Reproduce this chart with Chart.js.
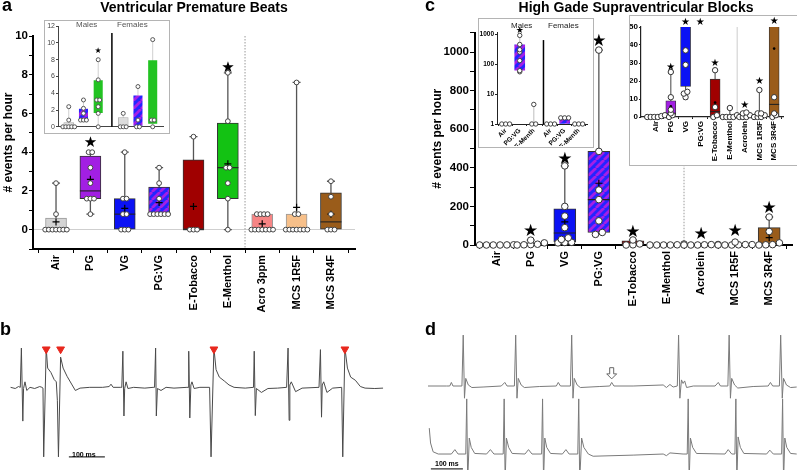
<!DOCTYPE html>
<html lang="en">
<head>
<meta charset="UTF-8">
<title>Arrhythmias after e-cigarette exposure</title>
<script src="https://cdn.jsdelivr.net/npm/chart.js"></script>
<style>
  body { margin: 0; width: 797px; height: 470px; position: relative; overflow: hidden; background: #fff;
         font-family: "Liberation Sans", Arial, sans-serif; }
  canvas, .txt, .inset { position: absolute; }
  .txt { line-height: 1; white-space: nowrap; color: #000; z-index: 5; }
  .panel { font-size: 18px; font-weight: bold; }
  .title { font-size: 14px; font-weight: bold; text-align: center; width: 300px; }
  .inset { background: #fff; border: 1.5px solid #b4b4b4; box-sizing: border-box; }
  .sex { font-size: 8px; color: #555; }
  .scale { font-size: 7px; font-weight: bold; }
</style>
</head>
<body>
  <!-- main panels -->
  <canvas id="chA" width="360" height="330" style="left:0;top:0"></canvas>
  <canvas id="chC" width="377" height="330" style="left:420px;top:0"></canvas>
  <canvas id="chB" width="386" height="128" style="left:4px;top:338px"></canvas>
  <canvas id="chD" width="369" height="140" style="left:428px;top:330px"></canvas>

  <!-- insets -->
  <div class="inset" style="left:44px;top:20px;width:126px;height:114px"></div>
  <canvas id="inA" width="123" height="111" style="left:45px;top:21px"></canvas>
  <div class="inset" style="left:478px;top:18px;width:116px;height:130px"></div>
  <canvas id="inCL" width="113" height="127" style="left:479px;top:19px"></canvas>
  <div class="inset" style="left:629px;top:15px;width:170px;height:151px;border-right:none"></div>
  <canvas id="inCR" width="167" height="148" style="left:630px;top:16px"></canvas>

  <!-- text -->
  <div class="txt panel" style="left:2px;top:-4px">a</div>
  <div class="txt title" style="left:44px;top:0">Ventricular Premature Beats</div>
  <div class="txt panel" style="left:425px;top:-4px">c</div>
  <div class="txt title" style="left:486px;top:0">High Gade Supraventricular Blocks</div>
  <div class="txt panel" style="left:0;top:320px">b</div>
  <div class="txt panel" style="left:425px;top:320px">d</div>
  <div class="txt sex" style="left:76px;top:21px">Males</div>
  <div class="txt sex" style="left:117px;top:21px">Females</div>
  <div class="txt sex" style="left:511px;top:22px;color:#222">Males</div>
  <div class="txt sex" style="left:548px;top:22px;color:#222">Females</div>
  <div class="txt scale" style="left:72px;top:451px">100 ms</div>
  <div class="txt scale" style="left:435px;top:460px">100 ms</div>

<script>
// ---------- a: ventricular premature beats (# events per hour) ----------
const aCats = ['Air', 'PG', 'VG', 'PG:VG', 'E-Tobacco', 'E-Menthol', 'Acro 3ppm', 'MCS 1R5F', 'MCS 3R4F'];
const aLo   = [0, 0.8, 0, 0.8, 0, 0, 0, 0, 0];
const aQ1   = [0, 1.6, 0, 0.8, 0, 1.6, 0, 0, 0];
const aMed  = [0, 2.0, 0.8, 0.8, 0, 3.2, 0, 0, 0.4];
const aQ3   = [0.6, 3.8, 1.6, 2.2, 3.6, 5.5, 0.8, 0.8, 1.9];
const aHi   = [2.4, 4.0, 4.0, 3.2, 4.8, 8.1, 0.8, 7.6, 2.5];
const aMean = [0.4, 2.6, 1.1, 1.4, 1.2, 3.4, 0.3, 1.15, 0.8];
const aPts  = [
  [0, 0, 0, 0, 0, 0, 0, 0.8, 2.4],
  [0.8, 1.6, 1.6, 1.6, 2.4, 3.2, 4.0, 4.0],
  [0, 0, 0, 0.8, 0.8, 1.6, 1.6, 4.0],
  [0.8, 0.8, 0.8, 0.8, 0.8, 0.8, 1.6, 2.4, 3.2],
  [0, 0, 0, 4.8],
  [0, 1.6, 2.4, 3.2, 3.2, 5.6, 8.1],
  [0, 0, 0, 0, 0, 0, 0, 0.8, 0.8, 0.8, 0.8],
  [0, 0, 0, 0, 0, 0, 0, 0.8, 0.8, 7.6],
  [0, 0, 0, 0.8, 1.7, 2.5]
];
const aStarCat = [1, 5];
const aStarVal = [4.47, 8.35];
const aTicks = [0, 2, 4, 6, 8, 10];

// inset of a: males | females
const iaCats = ['Air', 'PG:VG', 'E-Menthol', 'Air', 'PG:VG', 'E-Menthol'];
const iaLo   = [0, 0.8, 0, 0, 0, 0];
const iaQ1   = [0, 0.8, 1.6, 0, 0, 0.3];
const iaQ3   = [0.5, 2.2, 5.6, 1.1, 3.8, 8.0];
const iaHi   = [2.4, 3.2, 8.0, 1.6, 4.8, 10.4];
const iaPts  = [[0, 0, 0, 0, 0, 0.8, 2.4], [0.8, 0.8, 0.8, 1.6, 2.2, 3.2], [0, 1.6, 2.4, 3.2, 3.2, 5.6, 8.0],
                [0, 0, 0, 1.6], [0, 0, 0.8, 4.8], [0, 0.8, 0.8, 10.4]];
const iaStarCat = [2];
const iaStarVal = [9.0];

// ---------- c: high grade supraventricular blocks (# events per hour) ----------
const cCats = ['Air', 'PG', 'VG', 'PG:VG', 'E-Tobacco', 'E-Menthol', 'Acrolein', 'MCS 1R5F', 'MCS 3R4F'];
const cLo   = [0, 0, 10, 55, 0, 0, 0, 0, 0];
const cQ1   = [0, 1, 17, 65, 0, 0, 0, 0, 0];
const cMed  = [0, 2, 62, 235, 3, 0, 1.5, 0.5, 7];
const cQ3   = [0, 9, 188, 485, 21, 0.5, 2, 2, 90];
const cHi   = [0, 25, 410, 1010, 26, 5, 2.5, 15, 145];
const cMean = [null, 6, 120, 320, 8, null, null, null, 38];
const cPts  = [
  [0, 0, 0, 0, 0.5, 1],
  [0, 1, 2, 4, 11, 25],
  [11, 13, 14, 29, 37, 90, 150, 200, 410],
  [55, 65, 125, 235, 285, 485, 1010],
  [0, 1, 5.5, 26],
  [0, 0, 0, 0, 1, 5],
  [0, 0, 0, 1, 2, 2.5],
  [0, 0, 0, 1, 2, 2, 15],
  [0, 1, 2, 11, 70, 145]
];
const cStarCat = [1, 2, 3, 4, 6, 7, 8];
const cStarVal = [67, 445, 1052, 62, 52, 67, 187];
// zoomed inset (0-50) uses the same groups
const crStarVal = [27.6, 52.4, 52.4, 30, 6.4, 19.7, 53];

// log inset of c: males | females
const icCats = ['Air', 'PG:VG', 'E-Menth', 'Air', 'PG:VG', 'E-Menth'];
const icLo   = [1, 55, 1, 1, 1, 1];
const icQ1   = [1, 60, 1, 1, 1, 1];
const icQ3   = [1, 450, 1, 1, 1.6, 1];
const icHi   = [1, 900, 4.5, 1, 1.6, 1];
const icPts  = [[1, 1, 1], [55, 60, 130, 250, 300, 450, 900], [1, 1, 4.5], [1, 1, 1], [1.6, 1.6, 1.6], [1, 1, 1]];
const icStarCat = [1];
const icStarVal = [1300];

// ---------- b: ECG with premature ventricular beats (time ms, amplitude) ----------
const bT = [3, 16, 25, 30, 33, 37, 39, 43, 48, 57, 70, 84, 90, 93, 95, 102, 106, 115, 124, 130, 133, 136, 142, 149, 160,
  174, 183, 196, 223, 259, 277, 282, 288, 309, 312, 315, 318, 320, 324, 329, 345, 376, 399, 403, 406, 408, 411, 421,
  435, 457, 493, 496, 498, 501, 504, 507, 513, 529, 556, 560, 568, 574, 583, 597, 610, 624, 655, 678, 680, 683, 686,
  700, 718, 745, 770, 774, 777, 779, 783, 795, 813, 860, 864, 867, 869, 873, 882, 898, 923, 926, 932, 939, 948, 961,
  975, 988, 1015, 1038];
const bV = [0, -0.03, 0.02, 0, 1.0, -0.86, -0.03, 0.14, -0.08, 0, -0.03, 0.02, 0, -0.02, -1.77, 1.0, 0.49, 0.38, 0.2,
  0.14, -0.33, -1.77, 0.77, 0.49, 0.28, 0.06, -0.08, -0.02, 0, 0, 0.02, 0.08, 0, 0, 0, 0.92, -0.73, -0.03, 0.14, -0.03,
  0, -0.02, 0, 0, 1.0, -0.73, -0.03, -0.08, 0, -0.02, 0, 0, 0.92, -0.78, 0.06, 0.14, -0.03, 0, 0, -1.77, 1.0, 0.45,
  0.26, 0.16, 0.06, 0, -0.02, 0, 0.92, -0.72, -0.03, -0.13, -0.03, -0.02, 0, 1.0, -0.84, 0.06, 0.14, -0.11, -0.02, 0,
  0.96, -0.76, 0.06, 0.14, -0.13, -0.02, 0, -1.77, 1.0, 0.49, 0.26, 0.18, 0.02, -0.02, -0.03, -0.02];
const bMarkT = [102, 142, 568, 932];   // premature beats
const bMarkV = 0.97;
const bBarT = [165, 265];              // 100 ms
const bBarV = -1.77;

// ---------- d: ECG with blocked beats, two leads ----------
const dT1 = [0, 58, 68, 73, 78, 106, 110, 114, 118, 126, 137, 172, 229, 240, 247, 270, 274, 278, 282, 291, 301, 349,
  401, 407, 414, 445, 449, 453, 457, 466, 476, 537, 568, 574, 581, 641, 735, 745, 756, 766, 779, 783, 787, 792, 797,
  802, 808, 829, 897, 907, 914, 937, 941, 945, 949, 958, 968, 1016, 1063, 1070, 1077, 1098, 1102, 1107, 1111, 1120,
  1133, 1152];
const dV1 = [0, 0, 0, 0.07, 0, 0, 1.0, -0.24, 0.15, 0.02, -0.03, -0.02, 0, 0.07, 0, 0, 1.0, -0.24, 0.15, 0.02, -0.03,
  -0.01, 0, 0.07, 0, 0, 1.0, -0.24, 0.15, 0.02, -0.03, -0.01, 0, 0.07, 0, 0, 0.02, -0.03, 0.03, -0.02, 0, 1.0, -0.24,
  0.12, 0.05, 0.1, -0.03, 0, 0, 0.07, 0, 0, 1.0, -0.24, 0.15, 0.02, -0.04, -0.01, 0, 0.07, 0, 0, 1.0, -0.24, 0.15,
  0.02, -0.03, -0.02];
const dT2 = [4, 8, 16, 32, 73, 84, 94, 118, 121, 124, 129, 135, 146, 183, 195, 206, 235, 238, 241, 245, 252, 263, 303,
  314, 325, 355, 358, 361, 365, 371, 383, 420, 431, 441, 468, 471, 474, 480, 487, 501, 516, 641, 735, 745, 756, 797,
  810, 813, 816, 820, 827, 839, 928, 938, 949, 959, 962, 965, 969, 976, 987, 1058, 1068, 1079, 1105, 1108, 1111, 1115,
  1121, 1133, 1152];
const dV2 = [0.47, 0.2, 0.04, 0, 0, 0.08, 0, 0, 1.0, -0.5, 0.29, 0.12, 0.01, 0, 0.08, 0, 0, 1.0, -0.5, 0.29, 0.12,
  0.01, 0, 0.08, 0, 0, 1.0, -0.5, 0.29, 0.12, 0.01, 0, 0.08, 0, 0, 1.0, -0.5, 0.29, 0.12, 0, -0.04, -0.02, 0, -0.03,
  0.02, 0, 0, 1.0, -0.5, 0.29, 0.12, 0.01, 0, 0.08, 0, 0, 1.0, -0.5, 0.31, 0.12, 0.01, 0, 0.07, 0, 0, 1.0, -0.5, 0.29,
  0.12, 0.01, 0];
const dArrowT = 574;                  // blocked P wave
const dArrowV = [0.14, 0.36];
const dBarT = [9, 109];               // 100 ms
const dBarV = -0.27;

Chart.defaults.font.family = '"Liberation Sans", Arial, sans-serif';
Chart.defaults.color = '#000';

// diagonal two-colour stripes for the PG:VG mix
function stripes(c1, c2) {
  const p = document.createElement('canvas');
  p.width = p.height = 8;
  const g = p.getContext('2d');
  g.fillStyle = c1;
  g.fillRect(0, 0, 8, 8);
  g.strokeStyle = c2;
  g.lineWidth = 2.8;
  g.beginPath();
  for (let k = -8; k <= 16; k += 8) { g.moveTo(k, 8); g.lineTo(k + 8, 0); }
  g.stroke();
  return g.createPattern(p, 'repeat');
}
const MIX = stripes('#2424ff', '#a41fe6');

// spread equal values sideways, like a dot plot
function swarm(xs, lists, tol, step) {
  const out = [];
  lists.forEach((vals, i) => {
    let grp = [];
    const flush = () => {
      grp.forEach((v, k) => out.push({ x: xs[i] + (k - (grp.length - 1) / 2) * step, y: v }));
      grp = [];
    };
    [...vals].sort((p, q) => p - q).forEach(v => {
      if (grp.length && v - grp[0] > tol) flush();
      grp.push(v);
    });
    flush();
  });
  return out;
}

// whiskers, separators, medians, means and stars
function boxLayer(c) {
  return {
    id: 'boxLayer',
    beforeDatasetsDraw(chart) {
      const { ctx, chartArea: a, scales: { x, y } } = chart;
      ctx.save();
      ctx.beginPath();
      ctx.rect(a.left - 20, a.top, a.width + 40, a.height + 1);
      ctx.clip();
      (c.seps || []).forEach(s => {
        const sx = x.getPixelForValue(s.x);
        ctx.strokeStyle = s.color;
        ctx.lineWidth = s.width;
        ctx.setLineDash(s.dash || []);
        ctx.beginPath();
        ctx.moveTo(sx, s.to == null ? a.top : y.getPixelForValue(s.to));
        ctx.lineTo(sx, a.bottom);
        ctx.stroke();
      });
      ctx.setLineDash([]);
      ctx.strokeStyle = c.whisker;
      ctx.lineWidth = c.whiskerW;
      c.lo.forEach((lo, i) => {
        const hi = c.hi[i];
        if (!(hi > lo)) return;
        const px = x.getPixelForValue(c.xs[i]);
        const t = y.getPixelForValue(hi), b = y.getPixelForValue(lo);
        ctx.beginPath();
        ctx.moveTo(px, t);
        ctx.lineTo(px, b);
        if (c.cap) {
          if (hi > c.q3[i]) { ctx.moveTo(px - c.cap, t); ctx.lineTo(px + c.cap, t); }
          if (lo < c.q1[i]) { ctx.moveTo(px - c.cap, b); ctx.lineTo(px + c.cap, b); }
        }
        ctx.stroke();
      });
      ctx.restore();
    },
    afterDatasetDraw(chart, args) {
      if (args.meta.type !== 'bar') return;
      const { ctx, chartArea: a, scales: { x, y } } = chart;
      ctx.save();
      ctx.beginPath();
      ctx.rect(a.left, a.top, a.width, a.height);
      ctx.clip();
      const half = c.boxW / 2;
      (c.med || []).forEach((m, i) => {
        if (m == null || !(c.q3[i] > c.q1[i])) return;
        const px = x.getPixelForValue(c.xs[i]), py = y.getPixelForValue(m);
        ctx.strokeStyle = '#222';
        ctx.lineWidth = 1.1;
        ctx.beginPath();
        ctx.moveTo(px - half, py);
        ctx.lineTo(px + half, py);
        ctx.stroke();
      });
      (c.mean || []).forEach((m, i) => {
        if (m == null) return;
        const px = x.getPixelForValue(c.xs[i]), py = y.getPixelForValue(m);
        ctx.strokeStyle = ctx.fillStyle = '#000';
        if (c.meanDot) {
          ctx.beginPath();
          ctx.arc(px, py, 1.3, 0, Math.PI * 2);
          ctx.fill();
        } else {
          ctx.lineWidth = 1.2;
          ctx.beginPath();
          ctx.moveTo(px - 3.5, py); ctx.lineTo(px + 3.5, py);
          ctx.moveTo(px, py - 3.5); ctx.lineTo(px, py + 3.5);
          ctx.stroke();
        }
      });
      ctx.restore();
    },
    afterDraw(chart) {
      const { ctx, scales: { x, y } } = chart;
      ctx.save();
      ctx.fillStyle = '#000';
      ctx.font = c.starSize + 'px "DejaVu Sans"';
      ctx.textAlign = 'center';
      ctx.textBaseline = 'middle';
      (c.starCat || []).forEach((k, j) =>
        ctx.fillText('\u2605', x.getPixelForValue(c.xs[k]), y.getPixelForValue(c.starVal[j])));
      ctx.restore();
    }
  };
}

function boxChart(id, c) {
  return new Chart(document.getElementById(id), {
    type: 'bar',
    data: {
      datasets: [
        {
          type: 'scatter', order: 0,
          data: swarm(c.xs, c.pts, c.tol, c.step),
          pointRadius: c.r, pointBackgroundColor: '#fff', pointBorderColor: c.ptEdge,
          pointBorderWidth: 1, clip: c.ptClip
        },
        {
          type: 'bar', order: 1,
          data: c.xs.map((x, i) => ({ x, y: c.q3[i] > c.q1[i] ? [c.q1[i], c.q3[i]] : null })),
          backgroundColor: c.fills, borderColor: c.edges, borderWidth: c.edgeW,
          borderSkipped: false, barThickness: c.boxW
        }
      ]
    },
    options: {
      responsive: false, animation: false, events: [],
      layout: { padding: c.pad },
      plugins: { legend: { display: false }, tooltip: { enabled: false } },
      scales: {
        x: {
          type: 'linear', min: c.xMin, max: c.xMax, offset: false,
          grid: { display: !!c.xTick, drawOnChartArea: false, tickLength: c.xTick || 0, tickColor: c.axis },
          border: { color: c.axis, width: c.axisW },
          ticks: c.xFont
            ? { autoSkip: false, minRotation: c.xRot, maxRotation: c.xRot, padding: c.xPad, font: c.xFont,
                color: '#000', callback: (v, i) => c.cats[i] }
            : { display: false },
          afterBuildTicks: s => { s.ticks = c.xs.map(v => ({ value: v })); },
          afterFit: s => { s.height = c.xH; }
        },
        y: {
          type: c.yType || 'linear', min: c.yMin, max: c.yMax,
          grid: {
            drawOnChartArea: !!c.zeroLine,
            color: ctx => (c.zeroLine && ctx.tick && ctx.tick.value === 0) ? c.zeroLine : 'rgba(0,0,0,0)',
            tickColor: c.axis, tickLength: c.yTick
          },
          border: { color: c.axis, width: c.axisW },
          ticks: {
            autoSkip: false, padding: c.yPad, font: c.yFont, color: c.yColor || '#000',
            callback: v => (c.yLabels.includes(v) ? v : '')
          },
          afterBuildTicks: s => { s.ticks = c.yAll.map(v => ({ value: v })); },
          title: c.yTitle
            ? { display: true, text: c.yTitle, font: { size: 12, weight: 'bold' }, color: '#000',
                padding: { top: c.yTitlePad, bottom: 0 } }
            : { display: false },
          afterFit: s => { s.width = c.yW; }
        }
      }
    },
    plugins: [boxLayer(c)]
  });
}

const idx = n => Array.from({ length: n }, (_, i) => i);
const range = (a, b, s) => { const r = []; for (let v = a; v <= b + 1e-9; v += s) r.push(+v.toFixed(6)); return r; };

// ---- a ----
boxChart('chA', {
  cats: aCats, xs: idx(aCats.length), lo: aLo, q1: aQ1, med: aMed, q3: aQ3, hi: aHi, mean: aMean, pts: aPts,
  starCat: aStarCat, starVal: aStarVal, starSize: 15,
  fills: ['#d4d4d4', '#a21fe3', '#0b12f5', MIX, '#a00000', '#13c213', '#f78585', '#f7c08a', '#9a5c1a'],
  edges: ['#999', '#333', '#333', '#333', '#333', '#333', '#999', '#999', '#333'], edgeW: 1, boxW: 21,
  r: 2.4, ptEdge: '#444', ptClip: false, tol: 0.05, step: 0.105,
  whisker: '#555', whiskerW: 1.3, cap: 4,
  seps: [{ x: 5.5, color: '#aaa', width: 1.2, dash: [1.5, 1.5] }],
  pad: { top: 36, right: 5, left: 0, bottom: 0 }, yW: 33, xH: 81,
  xMin: -0.67, xMax: 8.7, yMin: -1, yMax: 10,
  axis: '#000', axisW: 2, xTick: 4, xPad: 2, xRot: 90, xFont: { size: 11, weight: 'bold' },
  yTick: 4, yPad: 1, yFont: { size: 11.5, weight: 'bold' }, yAll: range(-1, 10, 1), yLabels: aTicks,
  zeroLine: '#cfcfcf', yTitle: '# events per hour', yTitlePad: 1
});

// ---- a inset ----
boxChart('inA', {
  cats: iaCats, xs: iaCats.map((_, i) => i + (i >= 3 ? 0.7 : 0)), lo: iaLo, q1: iaQ1, q3: iaQ3, hi: iaHi, pts: iaPts,
  starCat: iaStarCat, starVal: iaStarVal, starSize: 8,
  fills: ['#dcdcdc', MIX, '#22c322', '#dcdcdc', MIX, '#22c322'],
  edges: ['#aaa', 'rgba(0,0,0,0)', 'rgba(0,0,0,0)', '#aaa', 'rgba(0,0,0,0)', 'rgba(0,0,0,0)'], edgeW: 0.8, boxW: 10,
  r: 2, ptEdge: '#555', ptClip: false, tol: 0.05, step: 0.2,
  whisker: '#cfcfcf', whiskerW: 1, cap: 0,
  seps: [{ x: 2.93, to: 11.2, color: '#000', width: 1.5 }],
  pad: { top: 3, right: 3, left: 0, bottom: 0 }, yW: 13, xH: 3,
  xMin: -0.73, xMax: 6.4, yMin: 0, yMax: 12,
  axis: '#444', axisW: 1, xTick: 0,
  yTick: 2, yPad: 1, yFont: { size: 7 }, yColor: '#444', yAll: range(0, 12, 2), yLabels: range(0, 12, 2)
});

// ---- c ----
boxChart('chC', {
  cats: cCats, xs: idx(cCats.length), lo: cLo, q1: cQ1, med: cMed, q3: cQ3, hi: cHi, mean: cMean, pts: cPts,
  starCat: cStarCat, starVal: cStarVal, starSize: 17,
  fills: ['#d4d4d4', '#a21fe3', '#0b12f5', MIX, '#a00000', '#d4d4d4', '#f78585', '#f7c08a', '#9a5c1a'],
  edges: ['#333', '#333', '#333', '#333', '#333', '#999', '#999', '#999', '#333'], edgeW: 1, boxW: 22,
  r: 3.3, ptEdge: '#333', ptClip: false, tol: 12, step: 0.2,
  whisker: '#555', whiskerW: 1.3, cap: 4,
  seps: [{ x: 5.5, color: '#aaa', width: 1.2, dash: [1.5, 1.5] }],
  pad: { top: 32.7, right: 0, left: 0, bottom: 0 }, yW: 55, xH: 85,
  xMin: -0.636, xMax: 8.67, yMin: 0, yMax: 1100,
  axis: '#000', axisW: 2, xTick: 4, xPad: 2, xRot: 90, xFont: { size: 11, weight: 'bold' },
  yTick: 5, yPad: 1, yFont: { size: 11.5, weight: 'bold' }, yAll: range(0, 1100, 100), yLabels: range(0, 1000, 200),
  yTitle: '# events per hour', yTitlePad: 10
});

// ---- c inset, log scale ----
boxChart('inCL', {
  cats: icCats, xs: icCats.map((_, i) => i + (i >= 3 ? 0.2 : 0)), lo: icLo, q1: icQ1, q3: icQ3, hi: icHi, pts: icPts,
  starCat: icStarCat, starVal: icStarVal, starSize: 9,
  fills: ['#ddd', MIX, '#ddd', '#ddd', MIX, '#ddd'], edges: ['#fff', '#fff', '#fff', '#fff', '#fff', '#fff'],
  edgeW: 0.5, boxW: 11,
  r: 2.2, ptEdge: '#444', ptClip: false, tol: 0.001, step: 0.28,
  whisker: '#c8c8c8', whiskerW: 1.2, cap: 0,
  seps: [{ x: 2.69, to: 630, color: '#000', width: 1.5 }],
  pad: { top: 13, right: 2, left: 0, bottom: 0 }, yW: 18, xH: 22,
  xMin: -0.62, xMax: 5.79, yType: 'logarithmic', yMin: 1, yMax: 1170,
  axis: '#222', axisW: 1, xTick: 2, xPad: 1, xRot: 45, xFont: { size: 6.5, weight: 'bold' },
  yTick: 2, yPad: 1, yFont: { size: 6.5, weight: 'bold' }, yAll: [1, 10, 100, 1000], yLabels: [1, 10, 100, 1000]
});

// ---- c inset, 0-50 ----
boxChart('inCR', {
  cats: cCats, xs: idx(cCats.length), lo: cLo, q1: cQ1, med: cMed, q3: cQ3, hi: cHi, mean: cMean, meanDot: true,
  pts: cPts, starCat: cStarCat, starVal: crStarVal, starSize: 10,
  fills: ['#d4d4d4', '#a21fe3', '#0b12f5', MIX, '#a00000', '#e0e0e0', '#f78585', '#f7c08a', '#9a5c1a'],
  edges: ['#333', '#333', '#333', '#333', '#333', '#bbb', '#bbb', '#bbb', '#333'], edgeW: 0.8, boxW: 10,
  r: 2.7, ptEdge: '#333', ptClip: { left: 20, right: 20, top: 0, bottom: 10 }, tol: 1.6, step: 0.24,
  whisker: '#555', whiskerW: 1.1, cap: 2.5,
  seps: [{ x: 5.5, color: '#ddd', width: 1.5 }],
  pad: { top: 11, right: 14, left: 0, bottom: 0 }, yW: 11, xH: 47,
  xMin: -1.02, xMax: 8.6, yMin: 0, yMax: 50,
  axis: '#222', axisW: 1.2, xTick: 2, xPad: 2, xRot: 90, xFont: { size: 8, weight: 'bold' },
  yTick: 2, yPad: 1, yFont: { size: 8, weight: 'bold' }, yAll: range(0, 50, 10), yLabels: range(0, 50, 10)
});

// ---- ECG traces ----
const pairs = (t, v) => t.map((x, i) => ({ x, y: v[i] }));
const quiet = { legend: { display: false }, tooltip: { enabled: false } };

new Chart(document.getElementById('chB'), {
  type: 'line',
  data: {
    datasets: [
      { type: 'scatter', data: bMarkT.map(x => ({ x, y: bMarkV })), pointStyle: 'triangle', rotation: 180,
        pointRadius: 4.5, backgroundColor: '#e8281e', borderColor: '#e8281e', clip: false },
      { data: pairs(bT, bV), borderColor: '#4a4a4a', borderWidth: 1, pointRadius: 0, tension: 0 },
      { data: bBarT.map(x => ({ x, y: bBarV })), borderColor: '#333', borderWidth: 1.2, pointRadius: 0 }
    ]
  },
  options: {
    responsive: false, animation: false, events: [], plugins: quiet,
    scales: {
      x: { type: 'linear', display: false, min: 0, max: 1042 },
      y: { display: false, min: -1.863, max: 1.116 }
    }
  }
});

const arrowLayer = {
  id: 'arrowLayer',
  afterDatasetsDraw(chart) {
    const { ctx, scales: { x, yT } } = chart;
    const ax = x.getPixelForValue(dArrowT);
    const tip = yT.getPixelForValue(dArrowV[0]), top = yT.getPixelForValue(dArrowV[1]);
    const neck = tip - 5;
    ctx.save();
    ctx.strokeStyle = '#666';
    ctx.fillStyle = '#fff';
    ctx.lineWidth = 1;
    ctx.beginPath();
    ctx.moveTo(ax - 2, top); ctx.lineTo(ax + 2, top); ctx.lineTo(ax + 2, neck); ctx.lineTo(ax + 5, neck);
    ctx.lineTo(ax, tip); ctx.lineTo(ax - 5, neck); ctx.lineTo(ax - 2, neck); ctx.closePath();
    ctx.fill();
    ctx.stroke();
    ctx.restore();
  }
};

new Chart(document.getElementById('chD'), {
  type: 'line',
  data: {
    datasets: [
      { data: pairs(dT1, dV1), yAxisID: 'yT', borderColor: '#7a7a7a', borderWidth: 1, pointRadius: 0 },
      { data: pairs(dT2, dV2), yAxisID: 'yB', borderColor: '#7a7a7a', borderWidth: 1, pointRadius: 0 },
      { data: dBarT.map(x => ({ x, y: dBarV })), yAxisID: 'yB', borderColor: '#333', borderWidth: 1.2, pointRadius: 0 }
    ]
  },
  options: {
    responsive: false, animation: false, events: [], plugins: quiet,
    scales: {
      x: { type: 'linear', display: false, min: 0, max: 1153 },
      yT: { display: false, min: -1.65, max: 1.1 },
      yB: { display: false, min: -0.29, max: 2.25 }
    }
  },
  plugins: [arrowLayer]
});
</script>
</body>
</html>
